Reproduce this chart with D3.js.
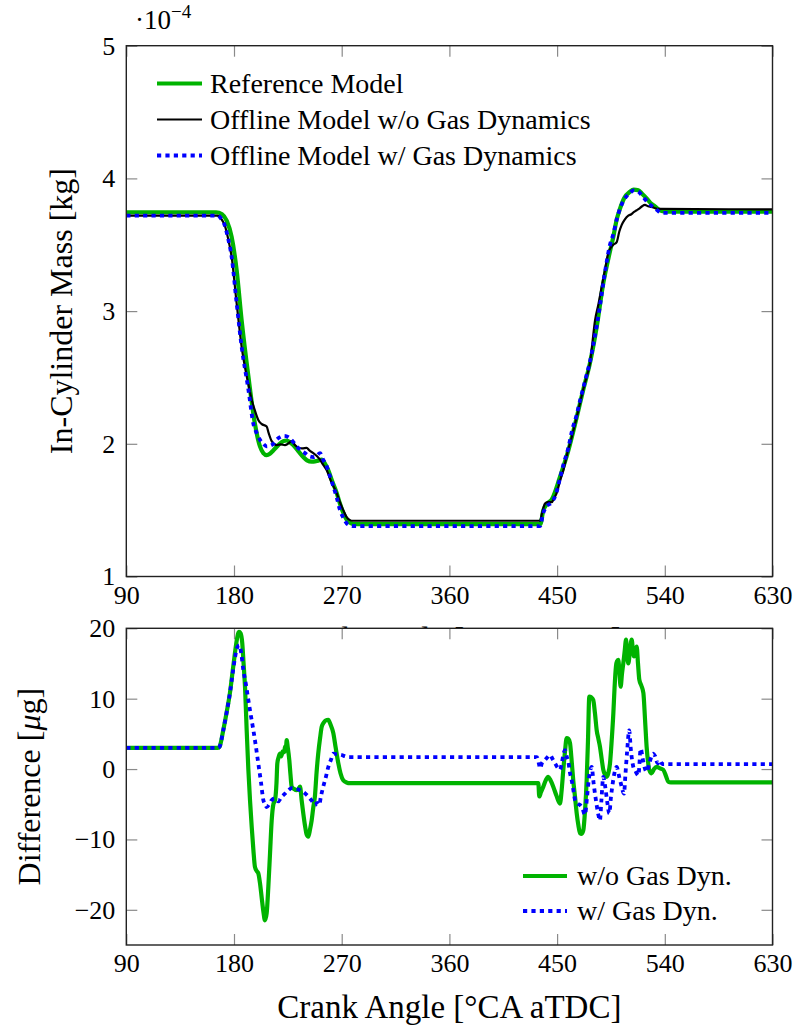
<!DOCTYPE html>
<html><head><meta charset="utf-8">
<script src="https://cdn.jsdelivr.net/npm/d3@7"></script>
<style>
body{margin:0;background:#fff}
svg{display:block}
svg text{font-family:"Liberation Serif","Times New Roman",Tinos,"DejaVu Serif",serif !important;fill:#000}
</style>
</head><body>
<svg id="chart" width="797" height="1028"></svg>
<script>
// ---------------- data ----------------
const angleTicks = [90, 180, 270, 360, 450, 540, 630];
const massTicks = [1, 2, 3, 4, 5];
const diffTicks = [-20, -10, 0, 10, 20];
const seriesNamesTop = ["Reference Model", "Offline Model w/o Gas Dynamics", "Offline Model w/ Gas Dynamics"];
const seriesNamesBottom = ["w/o Gas Dyn.", "w/ Gas Dyn."];

// In-cylinder mass [1e-4 kg] vs crank angle
const referenceModel = [[90,3.745],[165,3.745],[170,3.73],[174,3.68],[178,3.56],[182.2,3.31],[186.4,2.93],[192,2.51],[197.5,2.15],[201.7,1.98],[204.5,1.93],[207.3,1.915],[210,1.925],[212.8,1.95],[217,1.99],[221.2,2.02],[224,2.025],[227,2.01],[229.5,1.99],[233.7,1.945],[237.9,1.90],[241,1.875],[244.9,1.865],[249,1.87],[253.3,1.88],[256,1.85],[258.8,1.80],[262,1.72],[265.8,1.63],[268.5,1.55],[271.3,1.48],[274,1.43],[277,1.405],[280,1.395],[436,1.395],[438.5,1.50],[442,1.55],[445.5,1.58],[452.4,1.75],[459.4,1.95],[466.4,2.20],[471.9,2.41],[477.5,2.61],[483.1,2.88],[488.6,3.21],[494.2,3.45],[497,3.56],[499.8,3.69],[502.5,3.77],[506,3.85],[510.9,3.90],[514,3.915],[517.9,3.91],[521,3.885],[524.8,3.85],[528,3.815],[531.8,3.79],[535,3.765],[537.4,3.755],[541,3.75],[630,3.75]];

const offlineNoGas = [[90,3.72],[166,3.72],[169,3.70],[172.5,3.64],[175,3.55],[178,3.41],[182.2,3.06],[186.4,2.73],[190.6,2.51],[192,2.45],[194.8,2.33],[197.5,2.25],[200.3,2.18],[203,2.15],[207.3,2.13],[209,2.08],[211.5,2.02],[215.7,1.99],[219,1.995],[222.6,1.99],[225,2.0],[228.2,2.02],[231,1.99],[233.7,1.97],[237,1.965],[240.7,1.97],[243,1.95],[246.3,1.93],[249,1.91],[251.9,1.88],[254.6,1.84],[257.5,1.80],[261,1.72],[265.8,1.63],[268.5,1.56],[271.3,1.50],[274,1.45],[277,1.425],[279,1.42],[435.7,1.42],[437.5,1.48],[439.9,1.55],[442,1.56],[445.5,1.56],[447.5,1.59],[449.7,1.63],[452.4,1.72],[455.2,1.80],[458.6,1.93],[462.2,2.05],[465,2.15],[467.7,2.25],[470.5,2.36],[473.3,2.46],[475.5,2.53],[477.5,2.61],[479,2.72],[481.7,2.93],[484.5,3.05],[487.2,3.18],[490,3.31],[492.8,3.44],[495,3.48],[497,3.50],[499.8,3.52],[502,3.60],[504,3.65],[506.5,3.69],[509.5,3.72],[512,3.73],[514,3.745],[516.5,3.76],[519,3.775],[521,3.79],[523.4,3.80],[526,3.79],[529,3.785],[532,3.775],[536,3.77],[630,3.767]];

const offlineGas = [[90,3.72],[166,3.72],[169,3.70],[172.5,3.64],[175,3.55],[178,3.41],[182.2,3.06],[186.4,2.73],[192,2.41],[196.2,2.15],[199,2.08],[201.7,2.03],[204.5,2.0],[207.3,1.98],[210,1.985],[212.8,2.00],[215.5,2.03],[218.4,2.05],[222,2.06],[225.4,2.05],[229,2.02],[232.4,1.98],[236,1.95],[239.3,1.93],[243,1.905],[246.3,1.90],[249,1.91],[251.9,1.93],[254.5,1.88],[257.5,1.83],[260,1.76],[263,1.68],[266,1.59],[268.6,1.50],[271.5,1.44],[274.2,1.40],[277,1.385],[280,1.38],[435.7,1.38],[438.5,1.48],[441.5,1.53],[445.5,1.56],[449,1.62],[452.4,1.74],[455.5,1.85],[459.4,1.97],[462.5,2.10],[466.4,2.22],[469,2.32],[471.9,2.42],[474.7,2.52],[477.5,2.62],[480.3,2.75],[483.1,2.89],[485.8,3.04],[488.6,3.21],[491.4,3.37],[494.2,3.50],[497,3.58],[499.8,3.69],[502.5,3.77],[506,3.84],[510.9,3.89],[514,3.91],[517.9,3.90],[521,3.87],[524.8,3.83],[528,3.80],[531.8,3.775],[535,3.75],[537.4,3.74],[630,3.74]];

// Difference [µg] vs crank angle
const diffNoGas = [[90,3.0],[166.5,3.0],[168,3.2],[171,5.5],[174,8.2],[176.6,10.8],[178.8,13.8],[180.8,16.5],[182.5,18.5],[184.2,19.5],[185.5,19.3],[186.9,17.9],[188,15],[189.2,11.7],[190.6,5.5],[192,-0.1],[193.4,-4.5],[194.8,-8.2],[196.2,-11.5],[197.5,-13.9],[199,-14.5],[200.3,-14.8],[201.7,-16.2],[203.1,-18.2],[204.5,-20.2],[205.9,-21.5],[207.3,-20.5],[208.7,-16.7],[210.1,-12],[211.5,-7.3],[212.9,-5.0],[214.3,-4.4],[215.5,-2],[216.2,0.8],[217.5,1.8],[218.4,2.2],[219.5,1.8],[220.7,2.5],[222,2.4],[222.6,3.2],[223.3,2.6],[224,4.1],[225,3],[226.2,1.3],[227.2,-0.8],[228.2,-2.5],[230,-2.8],[232.4,-3.0],[234,-2.8],[235.2,-2.5],[236.5,-4.4],[237.9,-6.3],[239.3,-8.0],[240.7,-9.3],[242.1,-9.6],[243.5,-8.6],[244.9,-7.3],[246.3,-5.4],[247.6,-3.9],[249,-0.5],[250.4,2.2],[252,4.5],[253.3,6.0],[255,6.6],[256.5,6.9],[258.8,7.0],[260.5,6.4],[263,5.1],[265,3],[267.2,0.8],[269,-0.6],[271.3,-1.6],[274,-1.9],[277,-2.0],[434.3,-2.0],[435.1,-3.9],[436.5,-3.3],[438.5,-2.5],[440.5,-1.6],[442.6,-1.1],[444.5,-1.6],[446.8,-2.5],[449.5,-3.8],[452.4,-4.9],[453.8,-3],[455.2,-0.1],[456.6,2.5],[458,4.4],[459.5,4.3],[460.8,3.7],[462,1.5],[463.5,-1.6],[465,-4],[466.4,-6.3],[467.8,-8],[469.1,-9.1],[470.5,-9.2],[471.9,-8.7],[473.3,-6],[474.7,-1.6],[475.8,4],[476.9,10.3],[478.5,10.2],[480.2,9.8],[481.6,8],[483.1,5.5],[484.5,4.3],[485.8,3.2],[487.2,1.5],[488.6,-0.1],[490,-0.8],[491.4,-1.1],[492.8,-0.6],[494.2,0.8],[495.6,4],[497,7.9],[498,11.5],[499.2,14.6],[500,15.3],[501.1,15.5],[502,14],[503.1,11.7],[504.2,13.5],[505.3,15.0],[506.5,16.8],[507.6,18.4],[508.5,16.5],[509.5,15.0],[510.9,16.8],[512.3,18.4],[513.3,17],[514.3,16.0],[515.4,16.8],[516.5,17.4],[517.6,15],[518.7,12.7],[520.5,11.8],[522.1,10.8],[523.5,7],[524.8,3.2],[526,1],[527,-0.1],[529,-0.6],[531,0],[533.2,0.3],[536,0.1],[538.7,-0.1],[541,-1],[542.9,-1.8],[545,-1.9],[630,-1.9]];

const diffGas = [[90,3.0],[166.5,3.0],[168,3.2],[171,5.5],[174,8.2],[176.6,10.8],[178.8,13.5],[180.8,15.8],[182.5,17.2],[184.5,17.6],[186,16.5],[187.8,14.1],[190,12],[192,9.8],[194,7.7],[196.2,5.5],[198.3,3.2],[200.3,0.8],[202.5,-1.8],[204.5,-4.4],[206,-5.0],[207.3,-5.4],[209.5,-5.0],[211.5,-4.4],[214,-4.2],[217,-4.6],[219.5,-4.0],[222.6,-3.5],[225.5,-3.0],[228.2,-2.7],[231.5,-2.8],[235.2,-3.0],[239,-3.4],[242.1,-3.9],[245,-4.5],[247.7,-5.1],[249.5,-4.8],[251.3,-5.1],[252.5,-4.0],[254.6,-2.5],[256.7,-1.2],[258.8,0.3],[261,1.3],[263,2.2],[266,2.1],[270,2.0],[273,1.8],[276,1.7],[433,1.7],[435,0.6],[435.7,0.1],[437.5,0.9],[439.9,1.3],[442,1.7],[444.1,2.0],[446,1.5],[448.3,0.8],[450.5,0.2],[452.4,-0.1],[454,0.9],[455.2,2.0],[456.6,2.7],[458,1.8],[459.4,1.0],[460.8,-0.6],[462.2,-1.6],[463.6,-3.0],[465,-4.4],[467,-4.9],[469.1,-5.1],[471.2,-5.6],[473.3,-6.5],[475,-4],[476.5,-1.5],[478,0],[478.9,0.3],[480.5,-2],[482.5,-4.5],[484.5,-6.5],[485.8,-7.3],[487,-4.5],[488.6,-1.1],[490.2,-2.5],[492,-4.8],[493.6,-6.3],[495,-4],[496.5,-2],[498,-0.5],[499.8,0.3],[501.5,-0.8],[503.5,-2.2],[505.9,-3.5],[507,-1],[508.5,2.5],[510.3,5.5],[511.5,3],[513.7,0.3],[515.5,-0.3],[517.9,-0.9],[519.9,2.9],[521.5,1.5],[523,0.3],[524.9,-0.4],[527,0.8],[530.4,2.2],[532,1.8],[534,0.8],[536,1.2],[538,0.7],[630,0.7]];

// ---------------- drawing ----------------
const GREEN = "#00b300", BLUE = "#0000ff";
const FONT = '"Liberation Serif", "Times New Roman", Tinos, "DejaVu Serif", serif';
const svg = d3.select("#chart");
const L = 126.3, R = 772.5;
const top1 = 45.7, bot1 = 576.5, top2 = 628.3, bot2 = 945;

const x = d3.scaleLinear().domain([90, 630]).range([L, R]);
const yMass = d3.scaleLinear().domain([1, 5]).range([bot1, top1]);
const yDiff = d3.scaleLinear().domain([-25, 20]).range([bot2, top2]);

const defs = svg.append("defs");
defs.append("clipPath").attr("id", "clipTop").append("rect")
  .attr("x", L).attr("y", top1).attr("width", R - L).attr("height", bot1 - top1);
defs.append("clipPath").attr("id", "clipBot").append("rect")
  .attr("x", L).attr("y", top2).attr("width", R - L).attr("height", bot2 - top2);

function drawPanel(yScale, yTicks, yTop, yBot, clipId, series, fmt) {
  const g = svg.append("g");
  g.append("rect").attr("x", L).attr("y", yTop).attr("width", R - L).attr("height", yBot - yTop).attr("fill", "#fff");
  const tickStyle = sel => {
    sel.attr("font-family", FONT);
    sel.select(".domain").remove();
    sel.selectAll(".tick line").attr("stroke", "#8a8a8a").attr("stroke-width", 1.2);
    sel.selectAll(".tick text").attr("font-size", 26).attr("fill", "#000");
  };
  g.append("g").attr("transform", `translate(0,${yBot})`)
    .call(d3.axisBottom(x).tickValues(angleTicks).tickSizeInner(-11).tickSizeOuter(0).tickPadding(9))
    .call(tickStyle);
  g.append("g").attr("transform", `translate(0,${yTop})`)
    .call(d3.axisTop(x).tickValues(angleTicks).tickSizeInner(-11).tickSizeOuter(0).tickFormat(""))
    .call(tickStyle);
  g.append("g").attr("transform", `translate(${L},0)`)
    .call(d3.axisLeft(yScale).tickValues(yTicks).tickSizeInner(-11).tickSizeOuter(0).tickPadding(11).tickFormat(fmt))
    .call(tickStyle);
  g.append("g").attr("transform", `translate(${R},0)`)
    .call(d3.axisRight(yScale).tickValues(yTicks).tickSizeInner(-11).tickSizeOuter(0).tickFormat(""))
    .call(tickStyle);

  const line = d3.line().x(d => x(d[0])).y(d => yScale(d[1])).curve(d3.curveMonotoneX);
  const pg = g.append("g").attr("clip-path", `url(#${clipId})`);
  series.forEach(s => {
    pg.append("path").datum(s.data).attr("d", line).attr("fill", "none")
      .attr("stroke", s.color).attr("stroke-width", s.width)
      .attr("stroke-dasharray", s.dash || null)
      .attr("stroke-linejoin", "round");
  });
  g.append("rect").attr("x", L).attr("y", yTop).attr("width", R - L).attr("height", yBot - yTop)
    .attr("fill", "none").attr("stroke", "#222").attr("stroke-width", 1.4);
  return g;
}

// top panel
drawPanel(yMass, massTicks, top1, bot1, "clipTop", [
  {data: referenceModel, color: GREEN, width: 4.2},
  {data: offlineNoGas, color: "#000", width: 2.2},
  {data: offlineGas, color: BLUE, width: 3.8, dash: "4.2 4.2"}
], d3.format("d"));

// exponent label
const expo = svg.append("text").attr("x", 135).attr("y", 29).attr("font-size", 27).attr("font-family", FONT);
expo.append("tspan").text("·10");
expo.append("tspan").attr("font-size", 19).attr("dy", -11).text("−4");

// top y label
svg.append("text").attr("transform", `translate(72,${(top1 + bot1) / 2}) rotate(-90)`)
  .attr("text-anchor", "middle").attr("font-size", 32).attr("font-family", FONT).text("In-Cylinder Mass [kg]");

// top x label (mostly hidden behind lower panel, as in the reference)
svg.append("text").attr("x", (L + R) / 2).attr("y", bot1 + 73).attr("text-anchor", "middle")
  .attr("font-size", 33).attr("font-family", FONT).text("Crank Angle [°CA aTDC]");

// top legend
const legTop = [
  {name: seriesNamesTop[0], color: GREEN, width: 4.2},
  {name: seriesNamesTop[1], color: "#000", width: 2.2},
  {name: seriesNamesTop[2], color: BLUE, width: 3.8, dash: "4.2 4.2"}
];
legTop.forEach((d, i) => {
  const cy = 83.5 + i * 36;
  svg.append("line").attr("x1", 157).attr("x2", 202).attr("y1", cy).attr("y2", cy)
    .attr("stroke", d.color).attr("stroke-width", d.width).attr("stroke-dasharray", d.dash || null);
  svg.append("text").attr("x", 210).attr("y", cy).attr("dy", "0.33em").attr("font-size", 28)
    .attr("font-family", FONT).text(d.name);
});

// bottom panel
drawPanel(yDiff, diffTicks, top2, bot2, "clipBot", [
  {data: diffNoGas, color: GREEN, width: 4.2},
  {data: diffGas, color: BLUE, width: 3.8, dash: "4.2 4.2"}
], d3.format("d"));

// bottom labels
const yl = svg.append("text").attr("transform", `translate(40,${(top2 + bot2) / 2}) rotate(-90)`)
  .attr("text-anchor", "middle").attr("font-size", 32).attr("font-family", FONT);
yl.append("tspan").text("Difference [");
yl.append("tspan").attr("font-style", "italic").text("μ");
yl.append("tspan").text("g]");

svg.append("text").attr("x", (L + R) / 2).attr("y", bot2 + 73).attr("text-anchor", "middle")
  .attr("font-size", 33).attr("font-family", FONT).text("Crank Angle [°CA aTDC]");

// bottom legend
const legBot = [
  {name: seriesNamesBottom[0], color: GREEN, width: 4.2},
  {name: seriesNamesBottom[1], color: BLUE, width: 3.8, dash: "4.2 4.2"}
];
legBot.forEach((d, i) => {
  const cy = 876 + i * 35;
  svg.append("line").attr("x1", 523).attr("x2", 567).attr("y1", cy).attr("y2", cy)
    .attr("stroke", d.color).attr("stroke-width", d.width).attr("stroke-dasharray", d.dash || null);
  svg.append("text").attr("x", 577).attr("y", cy).attr("dy", "0.33em").attr("font-size", 28)
    .attr("font-family", FONT).text(d.name);
});
</script>
</body></html>
